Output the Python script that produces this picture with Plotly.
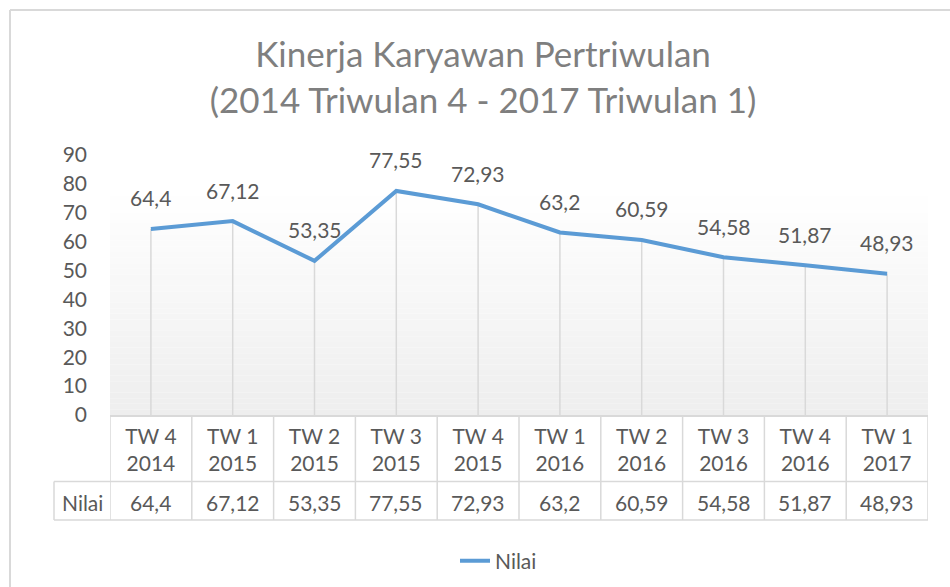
import plotly.graph_objects as go

# ---- data ----
quarters = ["TW 4", "TW 1", "TW 2", "TW 3", "TW 4", "TW 1", "TW 2", "TW 3", "TW 4", "TW 1"]
years = ["2014", "2015", "2015", "2015", "2015", "2016", "2016", "2016", "2016", "2017"]
nilai = [64.4, 67.12, 53.35, 77.55, 72.93, 63.2, 60.59, 54.58, 51.87, 48.93]
series_name = "Nilai"
y_ticks = [0, 10, 20, 30, 40, 50, 60, 70, 80, 90]

categories = [f"{q}<br>{y}" for q, y in zip(quarters, years)]
labels = [str(v).replace(".", ",") for v in nilai]

W, H = 950, 587
L, R, T, B = 110, 22, 155, 172
PW, PH = W - L - R, H - T - B
FONT = "Lato"
TXT = "#595959"
GRID = "#D9D9D9"


def px_x(x):
    return (x - L) / PW


def px_y(y):
    return 1 - (y - T) / PH


fig = go.Figure()

# drop lines
dx, dy = [], []
for c, v in zip(categories, nilai):
    dx += [c, c, None]
    dy += [0, v, None]
fig.add_trace(go.Scatter(x=dx, y=dy, mode="lines", line=dict(color=GRID, width=1.5),
                         hoverinfo="skip", showlegend=False))

# main line
fig.add_trace(go.Scatter(x=categories, y=nilai, mode="lines", name=series_name,
                         line=dict(color="#5B9BD5", width=4)))

shapes = []
# gradient plot background
top_px, bot_px = 190, 415
N = 40
for i in range(N):
    y0 = top_px + (bot_px - top_px) * i / N
    y1 = top_px + (bot_px - top_px) * (i + 1) / N
    t = (i + 0.5) / N
    g = round(255 - (255 - 238) * t)
    shapes.append(dict(type="rect", xref="paper", yref="paper", x0=0, x1=1,
                       y0=px_y(y1), y1=px_y(y0), line=dict(width=0),
                       fillcolor=f"rgb({g},{g},{g})", layer="below"))

# chart border (top and left)
shapes.append(dict(type="line", xref="paper", yref="paper", x0=px_x(10), x1=px_x(952),
                   y0=px_y(10), y1=px_y(10), line=dict(color=GRID, width=2)))
shapes.append(dict(type="line", xref="paper", yref="paper", x0=px_x(10), x1=px_x(10),
                   y0=px_y(10), y1=px_y(590), line=dict(color=GRID, width=2)))

# data table grid
row1_px, row2_px = 481.5, 520
for y in (row1_px, row2_px):
    shapes.append(dict(type="line", xref="paper", yref="paper", x0=px_x(54), x1=1,
                       y0=px_y(y), y1=px_y(y), line=dict(color=GRID, width=1.5)))
shapes.append(dict(type="line", xref="paper", yref="paper", x0=px_x(54), x1=px_x(54),
                   y0=px_y(row1_px), y1=px_y(row2_px), line=dict(color=GRID, width=1.5)))
for i in range(len(categories) + 1):
    shapes.append(dict(type="line", xref="x", yref="paper", x0=i - 0.5, x1=i - 0.5,
                       y0=0, y1=px_y(row2_px), line=dict(color=GRID, width=1.5)))

annotations = []
# data labels
for c, v, lab in zip(categories, nilai, labels):
    annotations.append(dict(x=c, y=v, text=lab, showarrow=False, yshift=31,
                            xanchor="center", yanchor="middle",
                            font=dict(family=FONT, size=21, color=TXT)))
# table values
row_mid = px_y(502)
for c, lab in zip(categories, labels):
    annotations.append(dict(x=c, y=row_mid, yref="paper", text=lab, showarrow=False,
                            xanchor="center", yanchor="middle",
                            font=dict(family=FONT, size=21, color=TXT)))
annotations.append(dict(x=px_x(82), xref="paper", y=row_mid, yref="paper", text=series_name,
                        showarrow=False, xanchor="center", yanchor="middle",
                        font=dict(family=FONT, size=21, color=TXT)))

fig.update_layout(
    width=W, height=H,
    margin=dict(l=L, r=R, t=T, b=B, autoexpand=False),
    paper_bgcolor="white", plot_bgcolor="rgba(0,0,0,0)",
    title=dict(text="Kinerja Karyawan Pertriwulan<br>(2014 Triwulan 4 - 2017 Triwulan 1)",
               xref="container", x=483 / W, xanchor="center",
               yref="container", y=1 - 67 / H, yanchor="middle",
               font=dict(family=FONT, size=35, color="#7F7F7F")),
    font=dict(family=FONT, size=21, color=TXT),
    xaxis=dict(type="category", range=[-0.5, len(categories) - 0.5], showgrid=False,
               showline=True, linecolor=GRID, linewidth=1.5, ticks="",
               tickfont=dict(family=FONT, size=21, color=TXT), ticklabelstandoff=2,
               zeroline=False, fixedrange=True),
    yaxis=dict(range=[0, 90], tickvals=y_ticks, showgrid=False, showline=False, zeroline=False,
               ticks="", ticklabelstandoff=22, tickfont=dict(family=FONT, size=21, color=TXT),
               fixedrange=True),
    showlegend=True,
    legend=dict(orientation="h", x=px_x(455), xanchor="left", y=px_y(561), yanchor="middle",
                font=dict(family=FONT, size=21, color=TXT), bgcolor="rgba(0,0,0,0)"),
    shapes=shapes,
    annotations=annotations,
)

fig.write_html("out.html", config={"displayModeBar": False},
               post_script="document.body.style.margin='0';")
